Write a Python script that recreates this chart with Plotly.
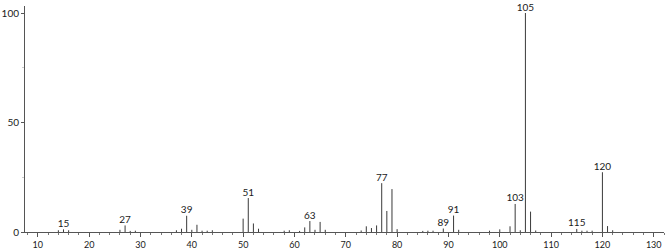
import plotly.graph_objects as go

# m/z values and relative intensities
mz = [14, 15, 16, 26, 27, 28, 29, 37, 38, 39, 40, 41, 42, 43, 44,
      50, 51, 52, 53, 58, 59, 61, 62, 63, 64, 65, 66,
      73, 74, 75, 76, 77, 78, 79, 80, 85, 86, 87, 89, 91, 92,
      98, 100, 102, 103, 104, 105, 106, 107,
      115, 116, 117, 118, 120, 121, 122]
intensity = [0.8, 1.2, 0.8, 1.0, 3.0, 0.5, 0.6, 0.8, 1.5, 7.4, 1.0, 3.3, 0.6, 0.6, 0.8,
             6.1, 15.5, 3.9, 1.5, 0.6, 0.8, 0.5, 2.1, 5.0, 1.0, 4.6, 1.0,
             0.7, 2.6, 1.8, 3.0, 22.3, 9.6, 19.6, 1.3, 0.5, 0.6, 0.6, 1.6, 7.5, 1.0,
             0.6, 1.2, 2.6, 12.8, 0.8, 100.0, 9.3, 0.7,
             1.4, 0.6, 0.6, 0.6, 27.3, 2.7, 0.8]

# labelled peaks
label_mz = [15, 27, 39, 51, 63, 77, 89, 91, 103, 105, 115, 120]
label_txt = [str(m) for m in label_mz]
lookup = dict(zip(mz, intensity))
label_y = [lookup[m] for m in label_mz]

x_ticks = [10, 20, 30, 40, 50, 60, 70, 80, 90, 100, 110, 120, 130]
y_ticks = [0, 50, 100]

FONT = "Lato, 'DejaVu Sans', sans-serif"

# stick spectrum: one vertical segment per peak (data coordinates)
stem_x, stem_y = [], []
for m, v in zip(mz, intensity):
    stem_x += [m, m, None]
    stem_y += [0, v, None]

fig = go.Figure()
fig.add_trace(go.Scatter(
    x=stem_x, y=stem_y, mode="lines",
    line=dict(color="#3a3a3a", width=1),
    hoverinfo="skip", showlegend=False,
))
fig.add_trace(go.Scatter(
    x=label_mz, y=label_y, text=label_txt, mode="text",
    textposition="top center",
    textfont=dict(family=FONT, size=10, color="#1a1a1a"),
    hoverinfo="skip", showlegend=False, cliponaxis=False,
))

fig.update_layout(
    template="none",
    width=667, height=249,
    margin=dict(l=25, r=3, t=6, b=17, autoexpand=False),
    paper_bgcolor="white", plot_bgcolor="white",
    font=dict(family=FONT, size=10, color="#1a1a1a"),
    xaxis=dict(
        range=[7.5, 132.0], tickvals=x_ticks, ticktext=[str(v) for v in x_ticks],
        showgrid=False, zeroline=False, showline=True, linecolor="#555555", linewidth=1,
        ticks="outside", ticklen=4, tickcolor="#555555", tickwidth=1,
        minor=dict(dtick=2, tick0=0, ticks="outside", ticklen=2, tickcolor="#777777", showgrid=False),
        tickfont=dict(family=FONT, size=9, color="#1a1a1a"),
        automargin=False, fixedrange=True,
    ),
    yaxis=dict(
        range=[0, 103.2], tickvals=y_ticks, ticktext=[str(v) for v in y_ticks],
        showgrid=False, zeroline=False, showline=True, linecolor="#555555", linewidth=1,
        ticks="outside", ticklen=3, tickcolor="#555555", tickwidth=1,
        minor=dict(dtick=25, ticks="outside", ticklen=2, tickcolor="#cccccc", showgrid=False),
        tickfont=dict(family=FONT, size=10, color="#1a1a1a"),
        automargin=False, fixedrange=True,
    ),
)

fig.write_html("out.html")
